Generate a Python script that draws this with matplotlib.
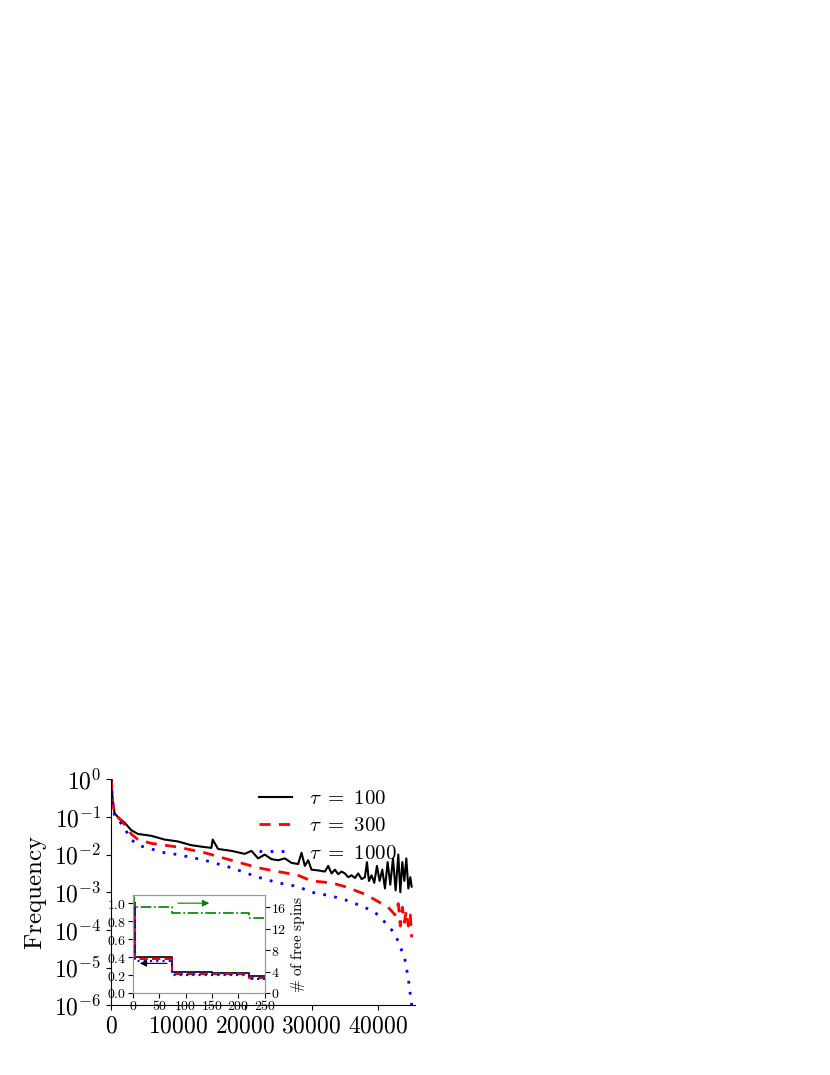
import numpy as np
import matplotlib.pyplot as plt

plt.rcParams['mathtext.fontset'] = 'cm'
plt.rcParams['font.family'] = 'serif'
plt.rcParams['font.serif'] = ['DejaVu Serif']

# main panel: log10(frequency) against step
x_black = [0, 200, 500, 1000, 2000, 3000, 4000, 6000, 8000, 10000, 12000, 14000, 15000, 15200,
           16000, 18000, 20000, 21000, 22000, 23000, 24000, 25000, 26000, 27000, 28000, 28500,
           29000, 29500, 30000, 31000, 32000, 32500, 33000, 33500, 34000, 34500, 35000, 35500,
           36000, 36500, 37000, 37500, 38000, 38300, 38600, 39000, 39400, 39800, 40200, 40600,
           41000, 41400, 41800, 42200, 42600, 43000, 43300, 43600, 43900, 44200, 44500, 44800, 45000]
y_black = [0.0, -0.5, -0.9, -1.0, -1.15, -1.35, -1.45, -1.5, -1.6, -1.65, -1.75, -1.8, -1.82, -1.6,
           -1.85, -1.9, -1.98, -1.9, -2.1, -2.0, -2.12, -2.15, -2.1, -2.22, -2.25, -1.95,
           -2.3, -2.15, -2.4, -2.42, -2.45, -2.3, -2.5, -2.4, -2.52, -2.45, -2.5, -2.6,
           -2.55, -2.62, -2.5, -2.65, -2.6, -2.2, -2.7, -2.55, -2.75, -2.3, -2.7, -2.4,
           -2.9, -2.2, -2.8, -2.1, -2.95, -2.0, -3.0, -2.2, -2.7, -2.1, -2.9, -2.6, -2.85]
x_red = [0, 200, 500, 1000, 2000, 3000, 4000, 6000, 8000, 10000, 14000, 18000, 22000, 25000,
         28000, 30000, 33000, 35000, 38000, 40000, 41500, 42500, 43000, 43300, 43600, 43900,
         44200, 44500, 44800, 45000]
y_red = [0.0, -0.6, -0.9, -1.0, -1.2, -1.45, -1.6, -1.7, -1.75, -1.8, -1.95, -2.15, -2.35, -2.45,
         -2.55, -2.7, -2.75, -2.85, -3.05, -3.25, -3.4, -3.6, -3.3, -3.9, -3.4, -3.8,
         -3.5, -3.9, -3.6, -4.2]
x_blue = [0, 200, 500, 1000, 2000, 3000, 4000, 6000, 8000, 10000, 14000, 18000, 22000, 25000,
          28000, 30000, 33000, 35000, 38000, 40000, 42000, 43000, 44000, 44500, 45000]
y_blue = [0.0, -0.65, -0.95, -1.05, -1.3, -1.6, -1.75, -1.85, -1.95, -2.0, -2.15, -2.35, -2.6, -2.75,
          -2.85, -3.0, -3.1, -3.2, -3.4, -3.6, -4.0, -4.3, -4.8, -5.3, -6.0]

# inset: frequency steps and number of free spins
ins_x = [0, 5, 75, 150, 220, 250]
ins_black = [1.0, 0.4, 0.23, 0.22, 0.19, 0.19]
ins_red = [1.0, 0.38, 0.21, 0.21, 0.17, 0.17]
ins_blue = [1.0, 0.36, 0.2, 0.2, 0.16, 0.16]
spins_x = [0, 3, 75, 220, 250]
spins = [18, 16, 15, 14, 14]

main_xticks = [0, 10000, 20000, 30000, 40000]
ins_xticks = [0, 50, 100, 150, 200, 250]
ins_yticks = [0, 0.2, 0.4, 0.6, 0.8, 1.0]
spin_ticks = [0, 4, 8, 12, 16]

fig = plt.figure(figsize=(8.3, 10.75), dpi=100)
ax = fig.add_axes([0.134, 0.065, 0.366, 0.21])
ax.plot(x_black, 10 ** np.array(y_black), color='black', lw=1.5, label=r'$\tau\ =\ 100$')
ax.plot(x_red, 10 ** np.array(y_red), color='red', lw=2, ls=(0, (4, 3)), label=r'$\tau\ =\ 300$')
ax.plot(x_blue, 10 ** np.array(y_blue), color='blue', lw=2, ls=(0, (1, 3)), label=r'$\tau\ =\ 1000$')
ax.set_yscale('log')
ax.set_ylim(1e-6, 1)
ax.set_xlim(0, 45500)
ax.set_xticks(main_xticks)
ax.set_xticklabels([r'$%d$' % v for v in main_xticks])
ax.set_yticks([10.0 ** k for k in range(-6, 1)])
ax.set_yticklabels([r'$10^{%d}$' % k for k in range(-6, 1)])
ax.tick_params(labelsize=17)
ax.spines['top'].set_visible(False)
ax.spines['right'].set_visible(False)
ax.set_ylabel(r'$\mathrm{Frequency}$', fontsize=18)
ax.legend(loc='upper right', frameon=False, fontsize=15, handlelength=1.6, handletextpad=0.8,
          bbox_to_anchor=(1.0, 1.04), labelspacing=0.4)

ins = fig.add_axes([0.160, 0.0763, 0.159, 0.091])
ins.step(ins_x, ins_black, where='post', color='black', lw=1.2)
ins.step(ins_x, ins_red, where='post', color='red', lw=1.5, ls=(0, (4, 2)))
ins.step(ins_x, ins_blue, where='post', color='blue', lw=1.5, ls=(0, (1, 2)))
ins.set_xlim(0, 250)
ins.set_ylim(0, 1.09)
ins.set_xticks(ins_xticks)
ins.set_xticklabels([r'$%d$' % v for v in ins_xticks])
ins.set_yticks(ins_yticks)
ins.set_yticklabels([r'$%.1f$' % v for v in ins_yticks])
ins.tick_params(labelsize=10, pad=1)
ins.annotate('', xy=(8, 0.33), xytext=(70, 0.33),
             arrowprops=dict(arrowstyle='-|>', color='black', lw=0.8))
ins2 = ins.twinx()
ins2.step(spins_x, spins, where='post', color='green', lw=1.2, ls='-.')
ins2.set_ylim(0, 18.3)
ins2.set_yticks(spin_ticks)
ins2.set_yticklabels([r'$%d$' % v for v in spin_ticks])
ins2.tick_params(labelsize=10, pad=1)
ins2.set_ylabel(r'$\#\ \mathrm{of\ free\ spins}$', fontsize=11, labelpad=2)
ins2.annotate('', xy=(150, 16.8), xytext=(80, 16.8),
              arrowprops=dict(arrowstyle='-|>', color='green', lw=0.8))
for a in (ins, ins2):
    for s in a.spines.values():
        s.set_color('0.6')

fig.savefig('out.png', dpi=100)
